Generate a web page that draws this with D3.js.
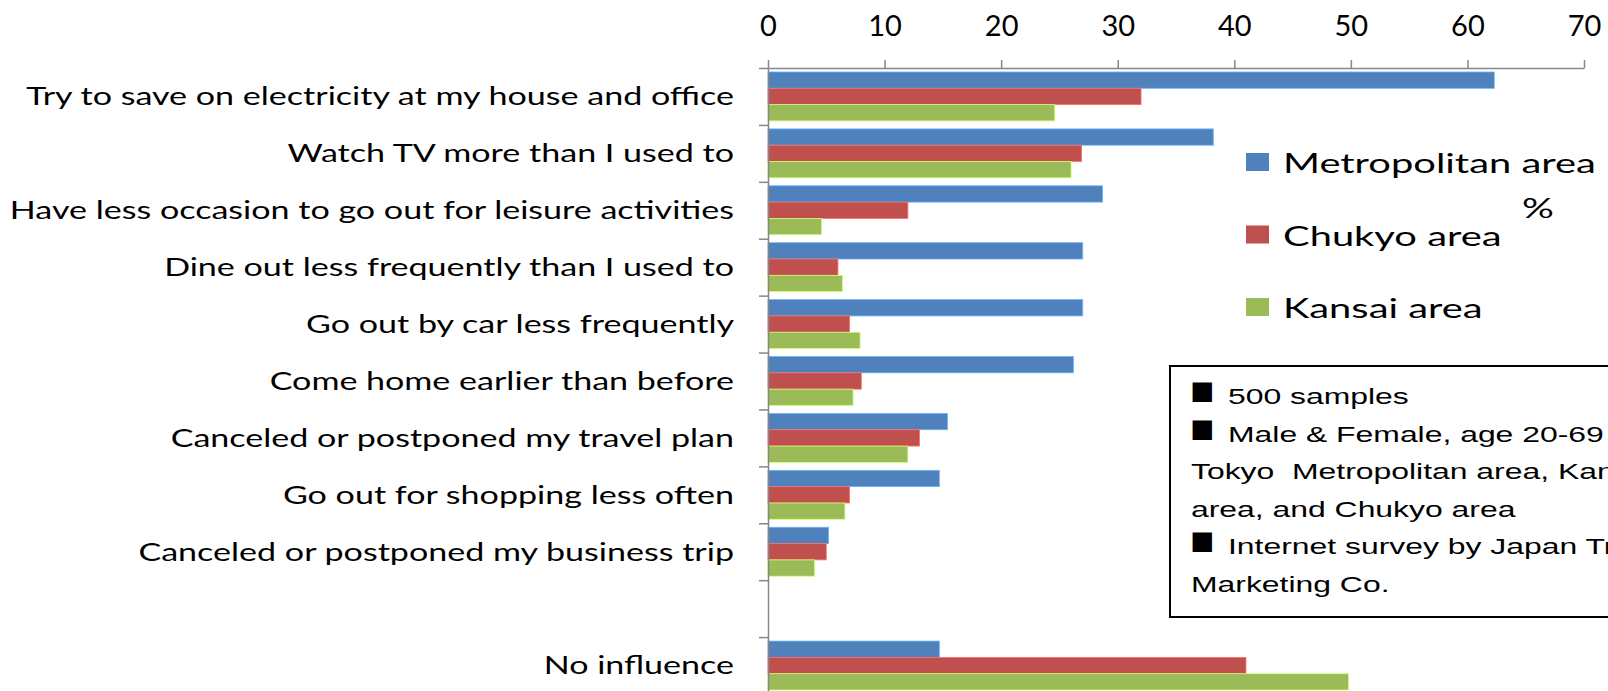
<!DOCTYPE html>
<html>
<head>
<meta charset="utf-8">
<script src="https://cdn.jsdelivr.net/npm/d3@7"></script>
<style>
  body { margin: 0; background: #fff; }
  svg { display: block; }
</style>
</head>
<body>
<div id="chart"></div>
<script>
var w = 1608, h = 691;

// categories top to bottom, " " is the empty gap row
const categories = [
  "Try to save on electricity at my house and office",
  "Watch TV more than I used to",
  "Have less occasion to go out for leisure activities",
  "Dine out less frequently than I used to",
  "Go out by car less frequently",
  "Come home earlier than before",
  "Canceled or postponed my travel plan",
  "Go out for shopping less often",
  "Canceled or postponed my business trip",
  " ",
  "No influence"
];
const metroValues  = [62.3, 38.2, 28.7, 27.0, 27.0, 26.2, 15.4, 14.7, 5.2, null, 14.7];
const chukyoValues = [32.0, 26.9, 12.0, 6.0, 7.0, 8.0, 13.0, 7.0, 5.0, null, 41.0];
const kansaiValues = [24.6, 26.0, 4.6, 6.4, 7.9, 7.3, 12.0, 6.6, 4.0, null, 49.8];
const seriesNames = ["Metropolitan area", "Chukyo area", "Kansai area"];
const seriesColors = ["#4F81BD", "#C0504D", "#9BBB59"];
const xTicks = [0, 10, 20, 30, 40, 50, 60, 70];
const unitLabel = "%";
const noteBullets = [true, true, false, false, true, false];
const noteLines = [
  "500 samples",
  "Male & Female, age 20-69 in",
  "Tokyo  Metropolitan area, Kansai",
  "area, and Chukyo area",
  "Internet survey by Japan Trend",
  "Marketing Co."
];

const allValues = [metroValues, chukyoValues, kansaiValues];

const chart = d3.select("#chart")
  .append("svg")
  .attr("width", w)
  .attr("height", h);

chart.append("rect").attr("width", w).attr("height", h).attr("fill", "#fff");

const labelFont = "Lato, 'Open Sans', sans-serif";
const noteFont = "'Liberation Sans', Arial, sans-serif";
const axisColor = "#868686";
// the source picture is stretched sideways, so most texts are too
const catStretch = 1.39;
const legStretch = 1.45;

let plotLeft = 768, plotRight = 1584, plotTop = 68, plotBottom = 694;

var xScale = d3.scaleLinear()
  .domain([0, 70])
  .range([plotLeft, plotRight]);

var yScale = d3.scaleBand()
  .domain(categories)
  .range([plotTop, plotBottom])
  .paddingInner(0.14)
  .paddingOuter(0.07);

var ySub = d3.scaleBand()
  .domain(seriesNames)
  .range([0, yScale.bandwidth()]);

// boundaries of the category rows
var yRow = d3.scaleLinear()
  .domain([0, categories.length])
  .range([plotTop, plotBottom]);

// bars
seriesNames.forEach(function(name, s) {
  var vals = allValues[s];
  var col = seriesColors[s];
  chart.append("g")
    .selectAll("rect")
    .data(categories.map((c, i) => ({cat: c, v: vals[i]})).filter(d => d.v != null))
    .enter().append("rect")
      .attr("x", xScale(0))
      .attr("y", d => yScale(d.cat) + ySub(name))
      .attr("width", d => xScale(d.v) - xScale(0))
      .attr("height", ySub.bandwidth())
      .attr("fill", col)
      .attr("stroke", d3.color(col).brighter(0.9))
      .attr("stroke-width", 0.8);
});

// top axis
var xAxis = d3.axisTop(xScale)
  .tickValues(xTicks)
  .tickSize(8)
  .tickSizeOuter(0)
  .tickPadding(24);

var gx = chart.append("g")
  .attr("transform", "translate(0," + plotTop + ")")
  .call(xAxis);
gx.select(".domain").attr("stroke", axisColor).attr("stroke-width", 1.5);
gx.selectAll(".tick line").attr("stroke", axisColor).attr("stroke-width", 1.5);
gx.selectAll(".tick text")
  .attr("fill", "#000")
  .style("font-family", labelFont)
  .style("font-size", "29px");

// left axis, ticks at row boundaries
var yAxis = d3.axisLeft(yRow)
  .tickValues(d3.range(0, categories.length + 1))
  .tickFormat("")
  .tickSize(9)
  .tickSizeOuter(0);

var gy = chart.append("g")
  .attr("transform", "translate(" + plotLeft + ",0)")
  .call(yAxis);
gy.select(".domain").attr("stroke", axisColor).attr("stroke-width", 1.5);
gy.selectAll(".tick line").attr("stroke", axisColor).attr("stroke-width", 1.5);

// category labels
chart.append("g")
  .selectAll("text")
  .data(categories)
  .enter().append("text")
    .attr("transform", d => "translate(734," + (yScale(d) + yScale.bandwidth() / 2) + ") scale(" + catStretch + ",1)")
    .attr("dy", "0.36em")
    .attr("text-anchor", "end")
    .style("font-family", labelFont)
    .style("font-size", "24.5px")
    .attr("fill", "#000")
    .text(d => d.trim());

// legend
var legend = chart.append("g");
seriesNames.forEach(function(name, i) {
  var ly = 153 + i * 72.5;
  legend.append("rect")
    .attr("x", 1246).attr("y", ly)
    .attr("width", 23).attr("height", 18)
    .attr("fill", seriesColors[i]);
  legend.append("text")
    .attr("transform", "translate(1283," + (ly + 20) + ") scale(" + legStretch + ",1)")
    .style("font-family", labelFont)
    .style("font-size", "27.5px")
    .attr("fill", "#000")
    .text(name);
});
legend.append("text")
  .attr("transform", "translate(1538,218) scale(" + legStretch + ",1)")
  .attr("text-anchor", "middle")
  .style("font-family", labelFont)
  .style("font-size", "27.5px")
  .text(unitLabel);

// note box
var note = chart.append("g");
note.append("rect")
  .attr("x", 1170).attr("y", 366)
  .attr("width", 500).attr("height", 251)
  .attr("fill", "#fff")
  .attr("stroke", "#000")
  .attr("stroke-width", 2);
noteLines.forEach(function(line, i) {
  var by = 404 + i * 37.6;
  if (noteBullets[i]) {
    note.append("text")
      .attr("x", 1190).attr("y", by)
      .style("font-family", noteFont)
      .style("font-size", "40px")
      .text("\u25A0");
  }
  note.append("text")
    .attr("transform", "translate(" + (noteBullets[i] ? 1228 : 1191) + "," + by + ") scale(1.45,1)")
    .attr("xml:space", "preserve")
    .style("white-space", "pre")
    .style("font-family", noteFont)
    .style("font-size", "22px")
    .attr("fill", "#000")
    .text(line);
});
</script>
</body>
</html>
